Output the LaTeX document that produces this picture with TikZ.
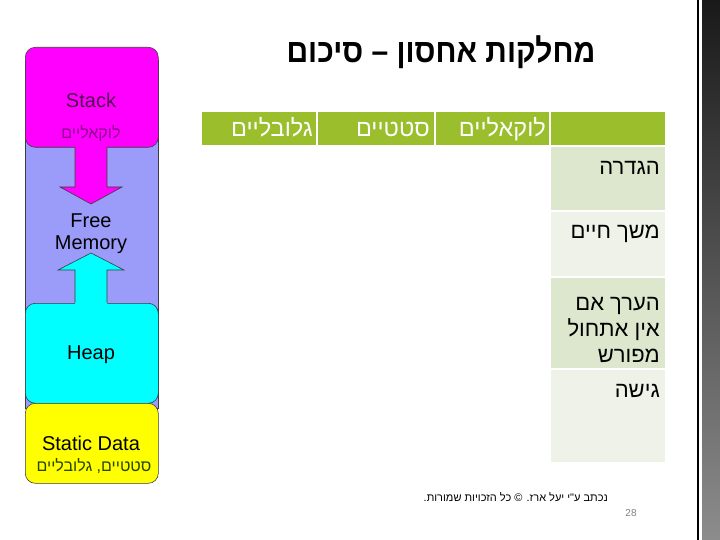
\documentclass[tikz,border=0pt]{standalone}
\usepackage{fontspec}
\setmainfont{Liberation Sans}
\newfontfamily\he[Script=Hebrew]{Liberation Sans}
\TeXXeTstate=1
\definecolor{stackc}{RGB}{255,0,255}
\definecolor{lav}{RGB}{155,155,250}
\definecolor{heapc}{RGB}{0,255,255}
\definecolor{statc}{RGB}{255,255,0}
\definecolor{stackhe}{RGB}{140,0,140}
\definecolor{stackt}{RGB}{80,10,80}
\definecolor{stathe}{RGB}{40,70,0}
\definecolor{hdr}{RGB}{155,190,45}
\definecolor{rowdark}{RGB}{220,231,206}
\definecolor{rowlight}{RGB}{238,242,232}
\definecolor{memline}{RGB}{60,60,60}
\tikzset{
  memblock/.style={draw=memline, line width=0.6pt, rounded corners=10pt, minimum width=133pt, inner sep=0pt, anchor=north west},
  blockline/.style={draw=memline, line width=0.6pt},
  memtext/.style={font=\fontsize{20}{22}\selectfont, inner sep=0pt, anchor=base},
  hecell/.style={fill=#1, inner sep=0pt, minimum width=114pt, anchor=north west},
  hdrcell/.style={fill=hdr, inner sep=0pt, minimum height=33pt, anchor=north west},
  hdrtext/.style={font=\he\fontsize{23.5}{26}\selectfont, text=white, inner sep=0pt, anchor=base east},
  rowtext/.style={font=\he\fontsize{22}{26}\selectfont, inner sep=0pt, anchor=base east},
}
\begin{document}
\begin{tikzpicture}[x=1pt,y=-1pt]
\useasboundingbox (0,0) rectangle (720,540);
\fill[white] (0,0) rectangle (720,540);
% right decoration
\fill[black] (696.5,0) rectangle (698.5,540);
\shade[top color=black!90, bottom color=black!45] (702,0) rectangle (720,540);
% title
\node[font=\he\bfseries\fontsize{30}{36}\selectfont, inner sep=0pt, anchor=base] (title) at (441,63) {\scalebox{1}[1.1]{\beginR מחלקות אחסון – סיכום\endR}};
% memory column
\node[blockline, fill=lav, minimum width=133pt, minimum height=348pt, inner sep=0pt, anchor=north west] (free) at (25,60) {};
\node[memblock, fill=stackc, minimum height=100pt] (stack) at (25,47) {};
\node[memblock, fill=heapc, minimum height=100pt] (heap) at (25,303) {};
\node[memblock, fill=statc, minimum height=80pt] (static) at (25,403) {};
% stack arrow
\fill[stackc] (75,145) -- (75,187) -- (60,187) -- (91,204) -- (122,187) -- (107,187) -- (107,145) -- cycle;
\draw[blockline] (75,147.3) -- (75,187) -- (60,187) -- (91,204) -- (122,187) -- (107,187) -- (107,147.3);
% heap arrow
\fill[heapc] (75,305) -- (75,270) -- (58,270) -- (91,253) -- (124,270) -- (107,270) -- (107,305) -- cycle;
\draw[blockline] (75,302.7) -- (75,270) -- (58,270) -- (91,253) -- (124,270) -- (107,270) -- (107,302.7);
% memory labels
\node[memtext, text=stackt] (stacklbl) at (91,108) {Stack};
\node[font=\he\fontsize{16}{18}\selectfont, text=stackhe, inner sep=0pt, anchor=base] (stackhe) at (91,139) {\beginR לוקאליים\endR};
\node[memtext] (freelbl) at (91,227) {Free};
\node[memtext] (memlbl) at (91,249) {Memory};
\node[memtext] (heaplbl) at (91,359) {Heap};
\node[memtext] (statlbl) at (91,450) {Static Data};
\node[font=\he\fontsize{16}{18}\selectfont, text=stathe, inner sep=0pt, anchor=base] (stathe) at (94,471) {\beginR סטטיים, גלובליים\endR};
% table header
\node[hdrcell, minimum width=114pt] (h1) at (202,112) {};
\node[hdrcell, minimum width=116pt] (h2) at (318,112) {};
\node[hdrcell, minimum width=113pt] (h3) at (436,112) {};
\node[hdrcell, minimum width=114pt] (h4) at (551,112) {};
\node[hdrtext] (h1t) at (313,137) {\beginR גלובליים\endR};
\node[hdrtext] (h2t) at (430,137) {\beginR סטטיים\endR};
\node[hdrtext] (h3t) at (546,137) {\beginR לוקאליים\endR};
% row cells
\node[hecell=rowdark, minimum height=63pt] (r1) at (551,147) {};
\node[hecell=rowlight, minimum height=64pt] (r2) at (551,212) {};
\node[hecell=rowdark, minimum height=90pt] (r3) at (551,278) {};
\node[hecell=rowlight, minimum height=92pt] (r4) at (551,370) {};
\node[rowtext] (r1t) at (660,175) {\beginR הגדרה\endR};
\node[rowtext] (r2t) at (660,238) {\beginR משך חיים\endR};
\node[rowtext] (r3a) at (660,310) {\beginR הערך אם\endR};
\node[rowtext] (r3b) at (660,336) {\beginR אין אתחול\endR};
\node[rowtext] (r3c) at (660,362) {\beginR מפורש\endR};
\node[rowtext] (r4t) at (660,397) {\beginR גישה\endR};
% footer
\node[font=\he\fontsize{11}{13}\selectfont, inner sep=0pt, anchor=base east] (footer) at (608,501) {\beginR נכתב ע"י יעל ארז. © כל הזכויות שמורות.\endR};
\node[font=\fontsize{10}{12}\selectfont, text=black!50, inner sep=0pt, anchor=base] (pnum) at (631,516) {28};
\end{tikzpicture}
\end{document}
